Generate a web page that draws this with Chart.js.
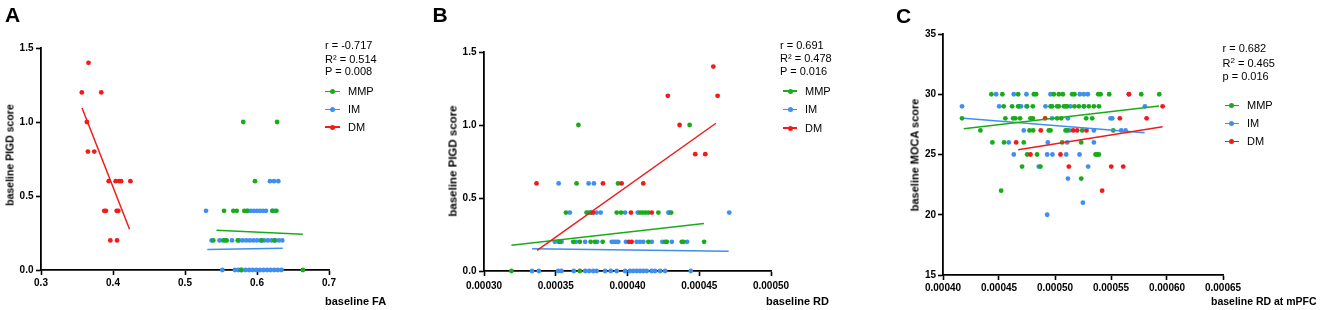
<!DOCTYPE html>
<html><head><meta charset="utf-8">
<script src="https://cdn.jsdelivr.net/npm/chart.js@4.4.1/dist/chart.umd.min.js"></script>
<style>
body{margin:0;width:1325px;height:310px;background:#fff;position:relative;overflow:hidden;font-family:"Liberation Sans",Arial,sans-serif;}
canvas{position:absolute;top:0;}
.t{position:absolute;white-space:nowrap;color:#000;}
.letter{font-weight:bold;font-size:21px;line-height:21px;}
.ann{font-size:11px;line-height:13px;}
.ytitle{font-weight:bold;line-height:13px;transform:translate(-50%,-50%) rotate(-90deg);}
.xtitle{font-weight:bold;font-size:11px;line-height:13px;}
.sw{position:absolute;height:1.5px;}
.dot{position:absolute;width:5px;height:5px;border-radius:50%;}
.sup{font-size:8px;position:relative;top:-4px;}
</style></head>
<body>
<canvas id="ca" width="360" height="310" style="left:0px"></canvas>
<canvas id="cb" width="365" height="310" style="left:440px"></canvas>
<canvas id="cc" width="370" height="310" style="left:890px"></canvas>
<script>
// ---------- Panel A: baseline FA vs baseline PIGD score ----------
const A_X_TICKS = [0.3, 0.4, 0.5, 0.6, 0.7];
const A_X_LABELS = ['0.3', '0.4', '0.5', '0.6', '0.7'];
const A_Y_TICKS = [0, 0.5, 1.0, 1.5];
const A_Y_LABELS = ['0.0', '0.5', '1.0', '1.5'];
const A_MMP = [[0.5809,1.0],[0.6279,1.0],[0.5972,0.6],[0.5542,0.4],[0.5671,0.4],[0.5718,0.4],[0.5824,0.4],[0.5860,0.4],[0.6213,0.4],[0.6270,0.4],
  [0.5393,0.2],[0.5532,0.2],[0.5579,0.2],[0.5732,0.2],[0.6065,0.2],[0.6242,0.2],[0.5777,0.0],[0.6637,0.0]];
const A_IM = [[0.618,0.6],[0.6236,0.6],[0.6296,0.6],
  [0.5292,0.4],[0.5875,0.4],[0.5917,0.4],[0.5958,0.4],[0.600,0.4],[0.6042,0.4],[0.6083,0.4],[0.6125,0.4],[0.6215,0.4],[0.6250,0.4],
  [0.537,0.2],[0.548,0.2],[0.556,0.2],[0.5653,0.2],[0.575,0.2],[0.580,0.2],[0.585,0.2],[0.590,0.2],[0.595,0.2],[0.600,0.2],[0.605,0.2],[0.610,0.2],[0.615,0.2],[0.620,0.2],[0.625,0.2],[0.630,0.2],[0.635,0.2],
  [0.5518,0],[0.5694,0],[0.574,0],[0.579,0],[0.584,0],[0.589,0],[0.594,0],[0.599,0],[0.604,0],[0.609,0],[0.614,0],[0.619,0],[0.624,0],[0.629,0],[0.634,0]];
const A_DM = [[0.3567,1.2],[0.3837,1.2],[0.3660,1.4],[0.3637,1.0],[0.3651,0.8],[0.3740,0.8],[0.3940,0.6],[0.4037,0.6],[0.4084,0.6],[0.4112,0.6],[0.4242,0.6],
  [0.3879,0.4],[0.3902,0.4],[0.4051,0.4],[0.4074,0.4],[0.3963,0.2],[0.4056,0.2]];
const A_FIT_MMP = [[0.5437,0.268],[0.6637,0.241]];
const A_FIT_IM = [[0.531,0.138],[0.6358,0.147]];
const A_FIT_DM = [[0.357,1.094],[0.423,0.275]];
const A_STATS = ['r = -0.717', 'R\u00b2 = 0.514', 'P = 0.008'];

// ---------- Panel B: baseline RD vs baseline PIGD score ----------
const B_X_TICKS = [0.00030, 0.00035, 0.00040, 0.00045, 0.00050];
const B_X_LABELS = ['0.00030', '0.00035', '0.00040', '0.00045', '0.00050'];
const B_Y_TICKS = [0, 0.5, 1.0, 1.5];
const B_Y_LABELS = ['0.0', '0.5', '1.0', '1.5'];
const B_MMP = [[0.0003658,1.0],[0.0004433,1.0],[0.0003645,0.6],[0.0003934,0.6],
  [0.0003571,0.4],[0.0003715,0.4],[0.0003745,0.4],[0.0003925,0.4],[0.0003955,0.4],[0.0004087,0.4],[0.0004106,0.4],[0.0004125,0.4],[0.0004145,0.4],[0.0004215,0.4],[0.0004304,0.4],
  [0.0003528,0.2],[0.0003622,0.2],[0.0003668,0.2],[0.0003743,0.2],[0.0003773,0.2],[0.0003827,0.2],[0.0004145,0.2],[0.0004262,0.2],[0.0004274,0.2],[0.0004378,0.2],[0.000439,0.2],[0.0004534,0.2],
  [0.0003191,0],[0.0003668,0]];
const B_IM = [[0.000352,0.6],[0.0003729,0.6],[0.0003766,0.6],
  [0.0003598,0.4],[0.0003729,0.4],[0.0003745,0.4],[0.0003785,0.4],[0.0003813,0.4],[0.0003983,0.4],[0.0004071,0.4],[0.0004285,0.4],[0.000429,0.4],[0.0004709,0.4],
  [0.0003494,0.2],[0.000352,0.2],[0.000354,0.2],[0.000364,0.2],[0.0003705,0.2],[0.0003789,0.2],[0.000389,0.2],[0.0003905,0.2],[0.000392,0.2],[0.0003936,0.2],[0.0003989,0.2],[0.0004064,0.2],[0.0004087,0.2],[0.000411,0.2],[0.0004169,0.2],[0.0004243,0.2],[0.0004309,0.2],[0.0004415,0.2],
  [0.0003335,0],[0.0003382,0],[0.0003517,0],[0.000354,0],[0.0003626,0],[0.0003705,0],[0.0003733,0],[0.0003761,0],[0.0003785,0],[0.0003843,0],[0.0003883,0],[0.0003925,0],[0.0003983,0],[0.0004017,0],[0.000404,0],[0.0004064,0],[0.0004087,0],[0.000411,0],[0.0004134,0],[0.0004169,0],[0.0004192,0],[0.0004227,0],[0.0004262,0],[0.0004441,0]];
const B_DM = [[0.0004598,1.4],[0.0004281,1.2],[0.0004628,1.2],[0.0004363,1.0],[0.0004472,0.8],[0.0004542,0.8],
  [0.0003366,0.6],[0.0003829,0.6],[0.0003959,0.6],[0.000411,0.6],[0.0003761,0.4],[0.0004024,0.4],[0.0004169,0.4],[0.000401,0.2],[0.0004029,0.2]];
const B_FIT_MMP = [[0.0003191,0.176],[0.0004533,0.325]];
const B_FIT_IM = [[0.0003335,0.153],[0.0004705,0.135]];
const B_FIT_DM = [[0.000337,0.142],[0.0004616,1.012]];
const B_STATS = ['r = 0.691', 'R\u00b2 = 0.478', 'P = 0.016'];

// ---------- Panel C: baseline RD at mPFC vs baseline MOCA score ----------
const C_X_TICKS = [0.00040, 0.00045, 0.00050, 0.00055, 0.00060, 0.00065];
const C_X_LABELS = ['0.00040', '0.00045', '0.00050', '0.00055', '0.00060', '0.00065'];
const C_Y_TICKS = [15, 20, 25, 30, 35];
const C_Y_LABELS = ['15', '20', '25', '30', '35'];
const C_MMP = [[0.0004432,30],[0.0004530,30],[0.0004671,30],[0.0004811,30],[0.0004831,30],[0.0004989,30],[0.0005034,30],[0.0005070,30],[0.0005153,30],[0.0005174,30],[0.0005386,30],[0.0005407,30],[0.0005484,30],[0.0005770,30],[0.0005931,30],
  [0.0004542,29],[0.0004617,29],[0.0004671,29],[0.0004751,29],[0.0004802,29],[0.0004960,29],[0.0004974,29],[0.0005019,29],[0.0005034,29],[0.0005079,29],[0.0005094,29],[0.0005109,29],[0.0005174,29],[0.0005213,29],[0.0005258,29],[0.0005302,29],[0.0005347,29],[0.0005392,29],
  [0.0004170,28],[0.0004557,28],[0.0004626,28],[0.0004647,28],[0.0004688,28],[0.0004781,28],[0.0004802,28],[0.0005019,28],[0.0005055,28],[0.0005278,28],[0.0005332,28],
  [0.0004334,27],[0.0004772,27],[0.0004805,27],[0.0004945,27],[0.0004960,27],[0.0005094,27],[0.0005109,27],[0.0005243,27],[0.0005520,27],
  [0.0004441,26],[0.0004545,26],[0.0004721,26],[0.0005064,26],[0.0005234,26],
  [0.0004751,25],[0.0004840,25],[0.0005362,25],[0.0005377,25],[0.0005392,25],
  [0.0004706,24],[0.0004870,24],[0.0005234,23],[0.0004519,22]];
const C_IM = [[0.0004474,30],[0.0004632,30],[0.0004745,30],[0.0004960,30],[0.0005222,30],[0.0005258,30],[0.0005293,30],[0.0005660,30],
  [0.0004170,29],[0.0004501,29],[0.0004682,29],[0.0004697,29],[0.0004745,29],[0.0004915,29],[0.0005138,29],[0.0005258,29],[0.0005803,29],
  [0.0004974,28],[0.0005115,28],[0.0005496,28],[0.0005511,28],
  [0.0004721,27],[0.0005129,27],[0.0005347,27],[0.0005591,27],[0.0005630,27],
  [0.0004587,26],[0.0004936,26],[0.0005109,26],[0.0005347,26],
  [0.0004632,25],[0.0004930,25],[0.0004977,25],[0.0005100,25],[0.0005219,25],
  [0.0004855,24],[0.0005296,24],[0.0005115,23],[0.0005249,21],[0.0004930,20]];
const C_DM = [[0.0005660,30],[0.0005961,29],[0.0004912,28],[0.0005579,28],[0.0005818,28],
  [0.0004873,27],[0.0005162,27],[0.0005198,27],[0.0005281,27],[0.0004653,26],[0.0004781,25],[0.0005049,25],
  [0.0005124,24],[0.0005502,24],[0.0005609,24],[0.0005421,22]];
const C_FIT_MMP = [[0.0004185,27.14],[0.000593,29.02]];
const C_FIT_IM = [[0.0004185,28.0],[0.00058,26.81]];
const C_FIT_DM = [[0.0004671,25.40],[0.0005961,27.31]];
const C_STATS = ['r = 0.682', 'R<span class="sup">2</span> = 0.465', 'p = 0.016'];

const SERIES = ['MMP', 'IM', 'DM'];
const COLORS = {MMP: '#1aab1a', IM: '#3f8ff0', DM: '#f01c1c'};

const FONT = '"Liberation Sans", Arial, sans-serif';

function pts(arr) { return arr.map(p => ({x: p[0], y: p[1]})); }

function makeChart(id, cfg) {
  const fits = [
    {data: pts(cfg.fitDM), c: COLORS.DM},
    {data: pts(cfg.fitMMP), c: COLORS.MMP},
    {data: pts(cfg.fitIM), c: COLORS.IM}
  ].map(f => ({data: f.data, showLine: true, borderColor: f.c, borderWidth: 1.5, pointRadius: 0, clip: false}));
  const scat = [
    {data: pts(cfg.dm), c: COLORS.DM},
    {data: pts(cfg.mmp), c: COLORS.MMP},
    {data: pts(cfg.im), c: COLORS.IM}
  ].map(s => ({data: s.data, showLine: false, backgroundColor: s.c, pointRadius: 2.4, pointBorderWidth: 0, pointHoverRadius: 2.4, clip: false}));
  const axisCommon = (ticks, labels, font, tl, pad) => ({
    type: 'linear',
    min: ticks[0], max: ticks[ticks.length - 1],
    afterBuildTicks: s => { s.ticks = ticks.map(v => ({value: v})); },
    grid: {drawOnChartArea: false, drawTicks: true, tickLength: tl, tickWidth: 1.6, tickColor: '#000'},
    border: {display: true, color: '#000', width: 1.8},
    ticks: {font: {family: FONT, weight: 'bold', size: font}, color: '#000', padding: pad, maxRotation: 0, autoSkip: false,
      callback: (v, i) => labels[i]}
  });
  const xs = axisCommon(cfg.xTicks, cfg.xLabels, cfg.tickFont, cfg.xtl, cfg.xPad);
  xs.afterFit = s => { s.height = cfg.xH; s.paddingLeft = 0; s.paddingRight = 0; };
  const ys = axisCommon(cfg.yTicks, cfg.yLabels, cfg.tickFont, 5, cfg.yPad);
  ys.afterFit = s => { s.width = cfg.yW; s.paddingTop = 0; s.paddingBottom = 0; };
  new Chart(document.getElementById(id), {
    type: 'scatter',
    data: {datasets: fits.concat(scat)},
    options: {
      responsive: false, animation: false, devicePixelRatio: 1,
      layout: {padding: {top: cfg.padTop, right: cfg.padRight, left: 0, bottom: 0}},
      plugins: {legend: {display: false}, tooltip: {enabled: false}},
      events: [],
      scales: {x: xs, y: ys}
    }
  });
}

makeChart('ca', {xTicks: A_X_TICKS, xLabels: A_X_LABELS, yTicks: A_Y_TICKS, yLabels: A_Y_LABELS,
  mmp: A_MMP, im: A_IM, dm: A_DM, fitMMP: A_FIT_MMP, fitIM: A_FIT_IM, fitDM: A_FIT_DM,
  tickFont: 10, xtl: 5, xPad: 2, yPad: 2.5, xH: 40, yW: 41, padTop: 48, padRight: 31});
makeChart('cb', {xTicks: B_X_TICKS, xLabels: B_X_LABELS, yTicks: B_Y_TICKS, yLabels: B_Y_LABELS,
  mmp: B_MMP, im: B_IM, dm: B_DM, fitMMP: B_FIT_MMP, fitIM: B_FIT_IM, fitDM: B_FIT_DM,
  tickFont: 10, xtl: 5, xPad: 4, yPad: 2.5, xH: 39, yW: 44, padTop: 52, padRight: 34});
makeChart('cc', {xTicks: C_X_TICKS, xLabels: C_X_LABELS, yTicks: C_Y_TICKS, yLabels: C_Y_LABELS,
  mmp: C_MMP, im: C_IM, dm: C_DM, fitMMP: C_FIT_MMP, fitIM: C_FIT_IM, fitDM: C_FIT_DM,
  tickFont: 10, xtl: 5, xPad: 2, yPad: 2, xH: 35, yW: 53, padTop: 34, padRight: 37});

// ---------- text overlays ----------
function addText(html, cls, left, top, extra) {
  const d = document.createElement('div');
  d.className = 't ' + cls;
  d.innerHTML = html;
  d.style.left = left + 'px';
  d.style.top = top + 'px';
  if (extra) Object.assign(d.style, extra);
  document.body.appendChild(d);
  return d;
}
function addLegend(x0, w, textLeft, centers) {
  SERIES.forEach((s, i) => {
    const cy = centers[i];
    const ln = document.createElement('div');
    ln.className = 'sw';
    ln.style.left = x0 + 'px'; ln.style.width = w + 'px'; ln.style.top = (cy - 0.75) + 'px';
    ln.style.background = COLORS[s];
    document.body.appendChild(ln);
    const dt = document.createElement('div');
    dt.className = 'dot';
    dt.style.left = (x0 + w / 2 - 2.5) + 'px'; dt.style.top = (cy - 2.5) + 'px';
    dt.style.background = COLORS[s];
    document.body.appendChild(dt);
    addText(s, 'ann', textLeft, cy - 6.5);
  });
}

// panel letters
addText('A', 'letter', 5, 4);
addText('B', 'letter', 432.5, 4);
addText('C', 'letter', 896, 4.5);

// stats
[45.7, 59.3, 71].forEach((cy, i) => addText(A_STATS[i], 'ann', 325, cy - 6.5));
[45.7, 58.3, 71].forEach((cy, i) => addText(B_STATS[i], 'ann', 780, cy - 6.5));
[48, 63.3, 76].forEach((cy, i) => addText(C_STATS[i], 'ann', 1222.5, cy - 6.5));

// legends
addLegend(325, 15, 348, [91.5, 109.5, 127]);
addLegend(783, 14, 805, [91, 109.5, 128]);
addLegend(1224.5, 14, 1247, [105.5, 123.5, 141.5]);

// axis titles
addText('baseline PIGD score', 'ytitle', 10, 155, {fontSize: '10.5px'});
addText('baseline PIGD score', 'ytitle', 452.5, 161, {fontSize: '11.5px'});
addText('baseline MOCA score', 'ytitle', 915, 154.5, {fontSize: '11px'});
addText('baseline FA', 'xtitle', 325, 301.7 - 6.5);
addText('baseline RD', 'xtitle', 766, 301 - 6.5);
addText('baseline RD at mPFC', 'xtitle', 1211, 301.7 - 6.5, {fontSize: '10.5px'});
</script>
</body></html>
